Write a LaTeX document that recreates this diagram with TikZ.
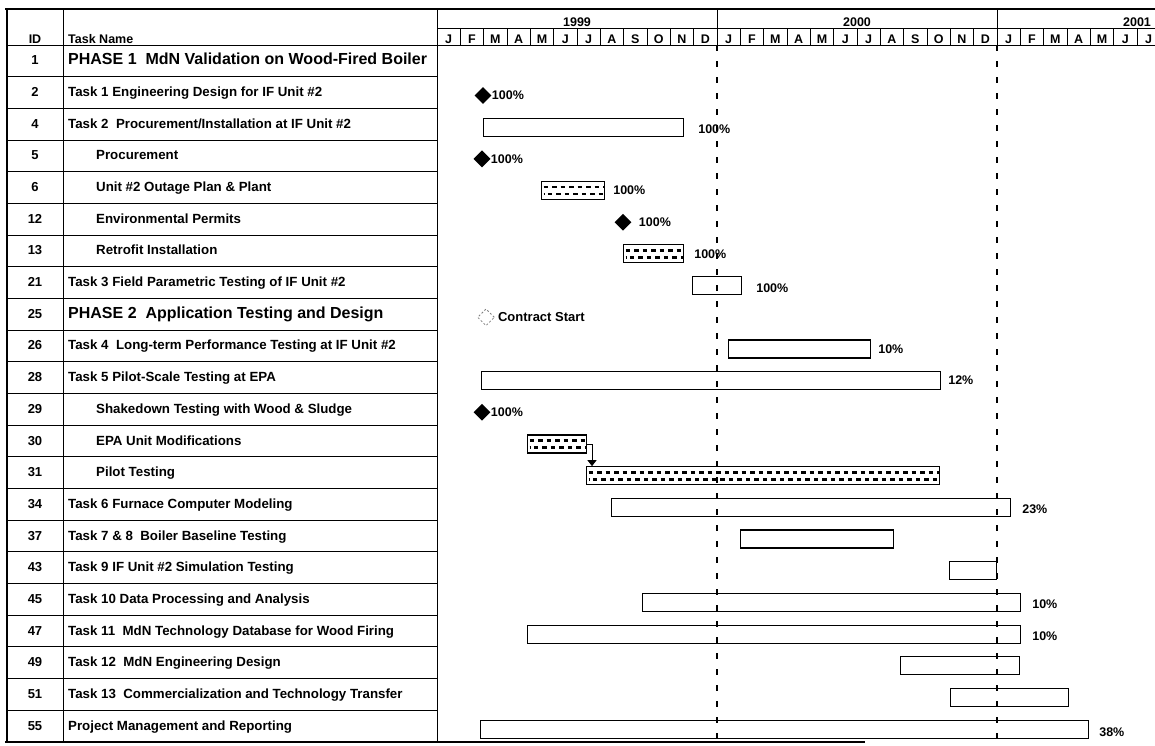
\documentclass[tikz,border=0pt]{standalone}
\usepackage{fontspec}
\setmainfont{Liberation Sans}
\usetikzlibrary{positioning,shapes.geometric,arrows.meta}

\tikzset{
  frameline/.style={line width=2.6pt},
  gridline/.style={line width=0.9pt},
  taskbar/.style={draw, line width=1.1pt, fill=white, anchor=west, minimum height=18pt, inner sep=0pt},
  hatchbar/.style={taskbar, path picture={
      \draw[line width=2.6pt, dash pattern=on 4.5pt off 4pt]
        ([xshift=2pt,yshift=-5.5pt]path picture bounding box.north west) -- ([yshift=-5.5pt]path picture bounding box.north east);
      \draw[line width=2.6pt, dash pattern=on 4.5pt off 4pt, dash phase=4.2pt]
        ([xshift=2pt,yshift=5.5pt]path picture bounding box.south west) -- ([yshift=5.5pt]path picture bounding box.south east);
    }},
  milestone/.style={diamond, fill=black, minimum size=17pt, inner sep=0pt},
  pct/.style={font=\bfseries\fontsize{12.5}{13}\selectfont, inner sep=0pt, anchor=west},
  idtxt/.style={font=\bfseries\fontsize{13}{13}\selectfont, inner sep=0pt, anchor=base},
  nametxt/.style={inner sep=0pt, anchor=base west},
  hdtxt/.style={font=\bfseries\fontsize{12.5}{12.5}\selectfont, inner sep=0pt, anchor=base},
  datemark/.style={line width=1.3pt, dash pattern=on 6pt off 10pt}
}

\begin{document}
\begin{tikzpicture}[x=1pt, y=-1pt]
  \useasboundingbox (0,0) rectangle (1155,745);

  % Header grid
  \draw[gridline] (437,28) -- (1155,28);
  \draw[gridline] (7,45) -- (1155,45);
  \draw[gridline] (63,9) -- (63,742);
  \draw[gridline] (437,9) -- (437,742);
  \draw[gridline] (717,9) -- (717,45);
  \draw[gridline] (997,9) -- (997,45);
  \node[hdtxt] (hid) at (35,43) {ID};
  \node[hdtxt, anchor=base west] (hname) at (68,43) {Task Name};
  \node[hdtxt, anchor=base] (y1999) at (577,26) {1999};
  \node[hdtxt, anchor=base] (y2000) at (857,26) {2000};
  \node[hdtxt, anchor=base] (y2001) at (1137,26) {2001};
  \foreach \mo [count=\k from 0] in {J,F,M,A,M,J,J,A,S,O,N,D,J,F,M,A,M,J,J,A,S,O,N,D,J,F,M,A,M,J,J}{
    \node[hdtxt] (mon\k) at ({437+23.333*(\k+0.5)},43) {\mo};
    \draw[gridline] ({437+23.333*(\k+1)},28) -- ++(0,17);
  }

  % Table rows
  \foreach \k in {1,...,21}
    \draw[gridline] (7,{45+31.68*\k}) -- (437,{45+31.68*\k});
  \foreach \id/\name/\dx/\fs [count=\i] in {
      1/{PHASE 1\ \ MdN Validation on Wood-Fired Boiler}/0/16,
      2/{Task 1 Engineering Design for IF Unit \#2}/0/13.3,
      4/{Task 2\ \ Procurement/Installation at IF Unit \#2}/0/13.3,
      5/{Procurement}/28/13.3,
      6/{Unit \#2 Outage Plan \& Plant}/28/13.3,
      12/{Environmental Permits}/28/13.3,
      13/{Retrofit Installation}/28/13.3,
      21/{Task 3 Field Parametric Testing of IF Unit \#2}/0/13.3,
      25/{PHASE 2\ \ Application Testing and Design}/0/16,
      26/{Task 4\ \ Long-term Performance Testing at IF Unit \#2}/0/13.3,
      28/{Task 5 Pilot-Scale Testing at EPA}/0/13.3,
      29/{Shakedown Testing with Wood \& Sludge}/28/13.3,
      30/{EPA Unit Modifications}/28/13.3,
      31/{Pilot Testing}/28/13.3,
      34/{Task 6 Furnace Computer Modeling}/0/13.3,
      37/{Task 7 \& 8\ \ Boiler Baseline Testing}/0/13.3,
      43/{Task 9 IF Unit \#2 Simulation Testing}/0/13.3,
      45/{Task 10 Data Processing and Analysis}/0/13.3,
      47/{Task 11\ \ MdN Technology Database for Wood Firing}/0/13.3,
      49/{Task 12\ \ MdN Engineering Design}/0/13.3,
      51/{Task 13\ \ Commercialization and Technology Transfer}/0/13.3,
      55/{Project Management and Reporting}/0/13.3}{
    \node[idtxt] (id\i) at (35,{29.16+31.68*\i+4}) {\id};
    \node[nametxt, font=\bfseries\fontsize{\fs}{\fs}\selectfont] (tn\i) at ({68+\dx},{29.16+31.68*\i+4}) {\name};
  }

  % Bars and milestones
  \node[milestone] (m2) at (483,95.5) {};
  \node[pct, right=0pt of m2] (p2) {100\%};
  \node[taskbar, minimum width=200pt] (b4) at (483,127.2) {};
  \node[pct, right=14pt of b4, yshift=-2pt] (p4) {100\%};
  \node[milestone] (m5) at (482,158.9) {};
  \node[pct, right=0pt of m5] (p5) {100\%};
  \node[hatchbar, minimum width=63pt] (b6) at (541,190.6) {};
  \node[pct, right=8pt of b6] (p6) {100\%};
  \node[milestone] (m12) at (623,222.2) {};
  \node[pct, right=7pt of m12] (p12) {100\%};
  \node[hatchbar, minimum width=60pt] (b13) at (623,253.9) {};
  \node[pct, right=10pt of b13] (p13) {100\%};
  \node[taskbar, minimum width=49pt] (b21) at (692,285.6) {};
  \node[pct, right=14pt of b21, yshift=-3pt] (p21) {100\%};
  \node[milestone, fill=none, draw=gray, line width=0.8pt, dash pattern=on 2pt off 2pt] (m25) at (486,317.3) {};
  \node[pct, font=\bfseries\fontsize{13}{13}\selectfont, right=3pt of m25] (p25) {Contract Start};
  \node[taskbar, minimum width=142pt] (b26) at (728,349) {};
  \node[pct, right=7pt of b26] (p26) {10\%};
  \node[taskbar, minimum width=459pt] (b28) at (481,380.6) {};
  \node[pct, right=7pt of b28] (p28) {12\%};
  \node[milestone] (m29) at (482,412.3) {};
  \node[pct, right=0pt of m29] (p29) {100\%};
  \node[hatchbar, minimum width=59pt] (b30) at (527,444) {};
  \node[hatchbar, minimum width=353pt] (b31) at (586,475.7) {};
  \draw[line width=0.9pt, -{Triangle[length=6pt, width=9pt]}] (b30.east) -| ([xshift=6pt]b31.north west);
  \node[taskbar, minimum width=399pt] (b34) at (611,507.4) {};
  \node[pct, right=11pt of b34, yshift=-2pt] (p34) {23\%};
  \node[taskbar, minimum width=153pt] (b37) at (740,539) {};
  \node[taskbar, minimum width=47pt] (b43) at (949,570.7) {};
  \node[taskbar, minimum width=378pt] (b45) at (642,602.4) {};
  \node[pct, right=11pt of b45, yshift=-2pt] (p45) {10\%};
  \node[taskbar, minimum width=493pt] (b47) at (527,634.1) {};
  \node[pct, right=11pt of b47, yshift=-2pt] (p47) {10\%};
  \node[taskbar, minimum width=119pt] (b49) at (900,665.8) {};
  \node[taskbar, minimum width=118pt] (b51) at (950,697.4) {};
  \node[taskbar, minimum width=608pt] (b55) at (480,729.1) {};
  \node[pct, right=10pt of b55, yshift=-3pt] (p55) {38\%};

  % Date lines
  \draw[datemark] (717,45) -- (717,742);
  \draw[datemark] (997,45) -- (997,742);

  % Outer frame
  \draw[frameline] (5,9) -- (1155,9);
  \draw[frameline] (7,9) -- (7,743);
  \draw[frameline] (5,742) -- (865,742);
\end{tikzpicture}
\end{document}
